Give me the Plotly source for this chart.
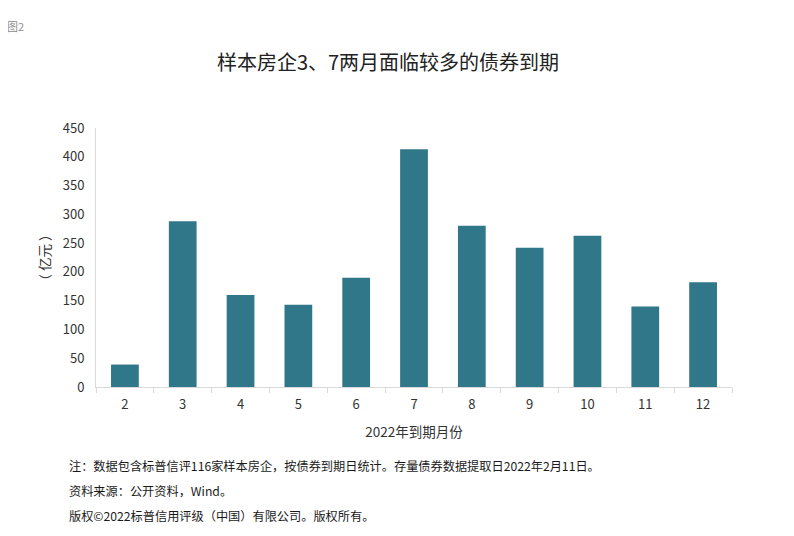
import plotly.graph_objects as go

FONT = "Noto Sans CJK SC"

months = ["2", "3", "4", "5", "6", "7", "8", "9", "10", "11", "12"]
amounts = [39, 288, 160, 143, 190, 413, 280, 242, 263, 140, 182]

title = "样本房企3、7两月面临较多的债券到期"
notes = [
    "注：数据包含标普信评116家样本房企，按债券到期日统计。存量债券数据提取日2022年2月11日。",
    "资料来源：公开资料，Wind。",
    "版权©2022标普信用评级（中国）有限公司。版权所有。",
]

# page is offset ~8px by the browser body margin, so margins are shifted
fig = go.Figure()
fig.add_trace(go.Bar(x=months, y=amounts, marker=dict(color="#2F7789", line=dict(width=0))))

fig.update_layout(
    width=794, height=536,
    margin=dict(l=88, r=70, t=120, b=157),
    paper_bgcolor="white", plot_bgcolor="white",
    font=dict(family=FONT, size=13, color="#333333"),
    bargap=0.52,
    showlegend=False,
    title=dict(text=title, xref="container", x=380/794, xanchor="center",
               y=1 - 55/536, yanchor="middle",
               font=dict(family=FONT, size=20, color="#222222")),
)
fig.update_xaxes(
    type="category", showline=True, linecolor="#D9D9D9", linewidth=1,
    ticks="outside", tickson="boundaries", ticklen=5, tickcolor="#D9D9D9",
    showgrid=False, ticklabelstandoff=5, tickfont=dict(size=13, color="#333333"),
    title=dict(text="2022年到期月份", font=dict(size=13.5, color="#333333"), standoff=15),
)
fig.update_yaxes(
    range=[0, 450], dtick=50, showline=True, linecolor="#D9D9D9", linewidth=1,
    showgrid=False, zeroline=False, ticks="", ticklabelstandoff=8,
    tickfont=dict(size=13, color="#333333"),
    title=dict(text="（ 亿元 ）", font=dict(size=13.5, color="#333333"), standoff=9),
)

fig.add_annotation(text="图2", xref="paper", yref="paper", x=-91/636, y=1 + 102/259,
                   xanchor="left", yanchor="middle", showarrow=False,
                   font=dict(size=11, color="#8C8C8C"))
for i, line in enumerate(notes):
    fig.add_annotation(text=line, xref="paper", yref="paper",
                       x=-29/636, y=-(79 + 25 * i)/259,
                       xanchor="left", yanchor="middle", showarrow=False,
                       font=dict(size=12.2, color="#1A1A1A"))

fig.write_html("out.html")
